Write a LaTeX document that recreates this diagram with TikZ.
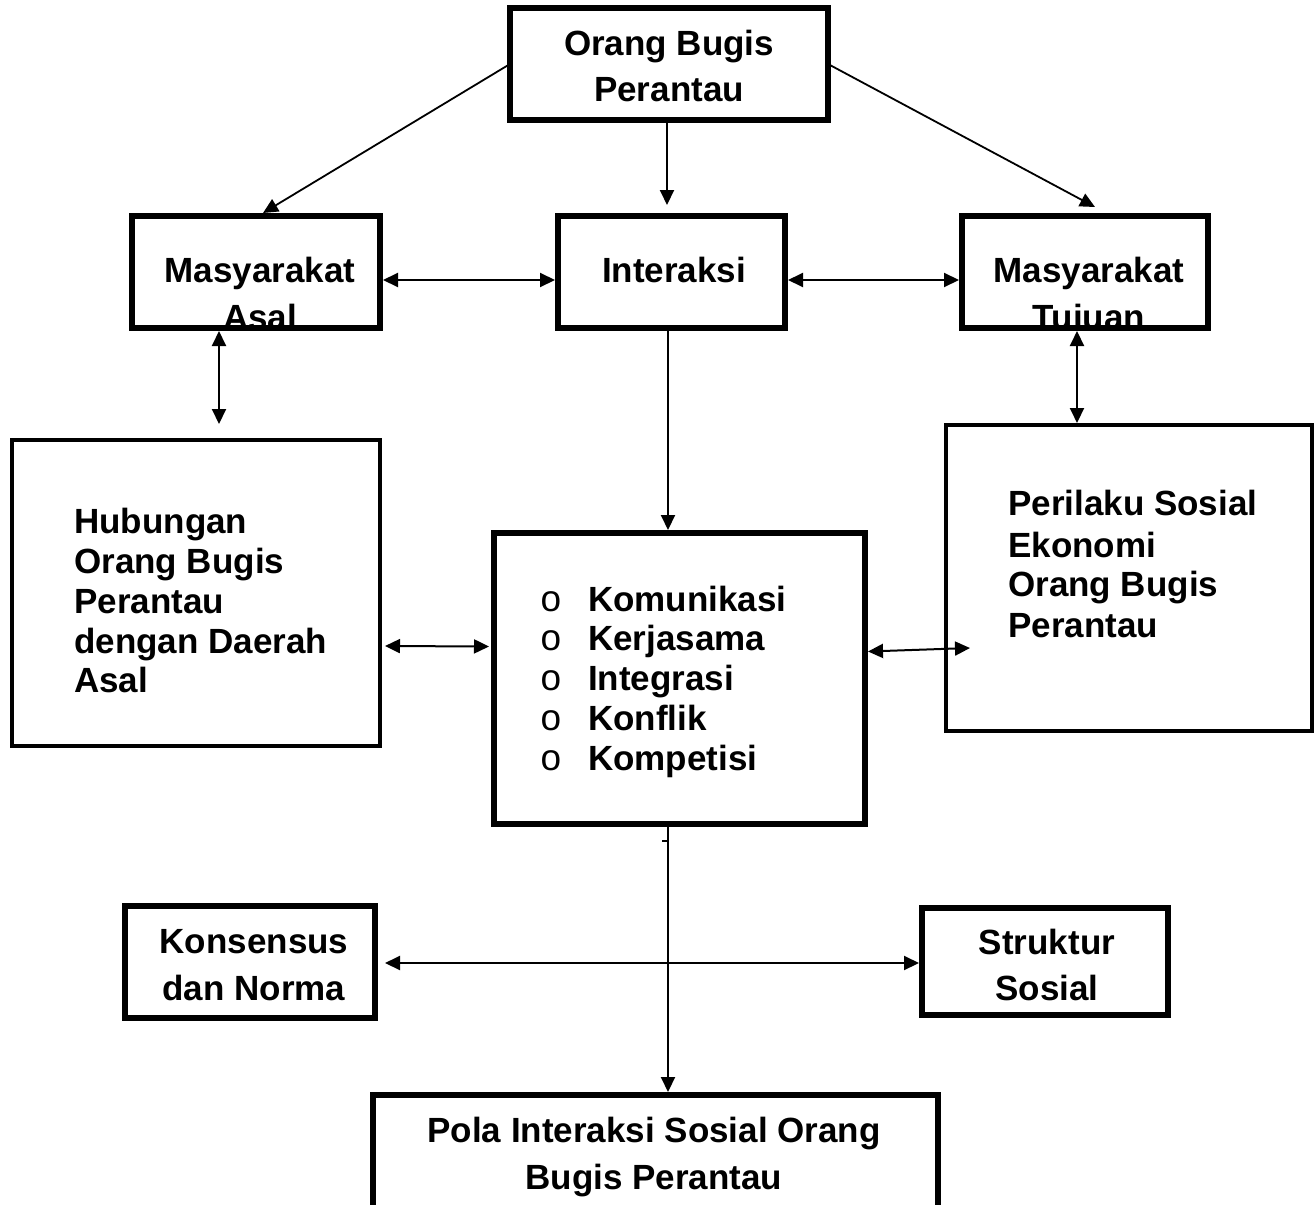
\documentclass[tikz,border=0pt]{standalone}
\usepackage{fontspec}
\setmainfont{Liberation Sans}
\usetikzlibrary{arrows.meta,calc}
\begin{document}
\begin{tikzpicture}[x=1pt,y=-1pt,
  >={Triangle[length=15pt,width=14pt]},
  box/.style={draw, line width=6pt, inner sep=0pt, outer sep=0pt, anchor=north west},
  thinbox/.style={box, line width=4pt},
  lbl/.style={font=\bfseries\fontsize{35}{40}\selectfont, inner sep=0pt, anchor=base},
  lbll/.style={lbl, anchor=base west},
  bul/.style={font=\mdseries\fontsize{37}{40}\selectfont, inner sep=0pt, anchor=base},
  arr/.style={->, line width=2pt},
  darr/.style={<->, line width=2pt}]
\useasboundingbox (0,0) rectangle (1316,1204);
\clip (0,0) rectangle (1316,1204);

% boxes
\node[box, minimum width=318pt, minimum height=112pt] (top) at (510,8) {};
\node[box, minimum width=248pt, minimum height=112pt] (masal) at (132,216) {};
\node[box, minimum width=227pt, minimum height=112pt] (inter) at (558,216) {};
\node[box, minimum width=246pt, minimum height=112pt] (mtuj) at (962,216) {};
\node[thinbox, minimum width=368pt, minimum height=306pt] (hub) at (12,440) {};
\node[box, minimum width=371pt, minimum height=291pt] (list) at (494,533) {};
\node[thinbox, minimum width=366pt, minimum height=306pt] (peri) at (946,425) {};
\node[box, minimum width=250pt, minimum height=112pt] (kons) at (125,906) {};
\node[box, minimum width=246pt, minimum height=107pt] (struk) at (922,908) {};
\node[box, minimum width=565pt, minimum height=160pt] (pola) at (373,1095) {};

% texts
\node[lbl] (t1a) at (669,56) {Orang Bugis};
\node[lbl] (t1b) at (669,102) {Perantau};

\node[lbl] (t2a) at (260,282) {Masyarakat};
\begin{scope}
  \clip (masal.north west) rectangle (masal.south east);
  \node[lbl] (t2b) at (260,329) {Asal};
\end{scope}
\draw[line width=6pt] (masal.north west) rectangle (masal.south east);

\node[lbl] (t3a) at (674,282) {Interaksi};

\node[lbl] (t4a) at (1089,282) {Masyarakat};
\begin{scope}
  \clip (mtuj.north west) rectangle (mtuj.south east);
  \node[lbl] (t4b) at (1089,329) {Tujuan};
\end{scope}
\draw[line width=6pt] (mtuj.north west) rectangle (mtuj.south east);

\node[lbll] (t5a) at (74,533) {Hubungan};
\node[lbll] (t5b) at (74,573) {Orang Bugis};
\node[lbll] (t5c) at (74,613) {Perantau};
\node[lbll] (t5d) at (74,653) {dengan Daerah};
\node[lbll] (t5e) at (74,692) {Asal};

\node[bul] (b1) at (551,611) {o};
\node[bul] (b2) at (551,650) {o};
\node[bul] (b3) at (551,690) {o};
\node[bul] (b4) at (551,730) {o};
\node[bul] (b5) at (551,770) {o};
\node[lbll] (t6a) at (588,611) {Komunikasi};
\node[lbll] (t6b) at (588,650) {Kerjasama};
\node[lbll] (t6c) at (588,690) {Integrasi};
\node[lbll] (t6d) at (588,730) {Konflik};
\node[lbll] (t6e) at (588,770) {Kompetisi};

\node[lbll] (t7a) at (1008,515) {Perilaku Sosial};
\node[lbll] (t7b) at (1008,557) {Ekonomi};
\node[lbll] (t7c) at (1008,596) {Orang Bugis};
\node[lbll] (t7d) at (1008,637) {Perantau};

\node[lbl] (t8a) at (254,953) {Konsensus};
\node[lbl] (t8b) at (254,1000) {dan Norma};

\node[lbl] (t9a) at (1047,954) {Struktur};
\node[lbl] (t9b) at (1047,1000) {Sosial};

\node[lbl] (t10a) at (654,1142) {Pola Interaksi Sosial Orang};
\node[lbl] (t10b) at (654,1189) {Bugis Perantau};

% connectors
\draw[arr, line width=1.8pt] (top.west) -- ($(masal.north)+(7,-3)$);
\draw[arr] ($(top.south)+(-2,0)$) -- ($(inter.north)+(-4.5,-11)$);
\draw[arr, line width=1.8pt] (top.east) -- ($(mtuj.north)+(10,-9)$);
\draw[darr] ($(masal.east)+(3,8)$) -- ($(inter.west)+(-3,8)$);
\draw[darr] ($(inter.east)+(3,8)$) -- ($(mtuj.west)+(-3,8)$);
\draw[darr] ($(masal.south)+(-37,3)$) -- ($(hub.north -| masal.south)+(-37,-16)$);
\draw[darr] ($(mtuj.south)+(-8,3)$) -- ($(peri.north -| mtuj.south)+(-8,-2)$);
\draw[arr] ($(inter.south)+(-3.5,0)$) -- ($(list.north -| inter.south)+(-3.5,-3)$);
\draw[darr] ($(hub.east)+(5,53)$) -- ($(list.west)+(-5,-32)$);
\draw[darr] ($(list.east)+(3,-27)$) -- ($(peri.west)+(24,70)$);
\draw[arr] ($(list.south)+(-11.5,0)$) -- ($(pola.north -| list.south)+(-11.5,-3)$);
\coordinate (tk) at ($(list.south)+(-11.5,17)$);
\draw[line width=1.5pt] (tk) -- ++(-6,0);
\draw[darr] ($(kons.east)+(10,1)$) -- ($(struk.west)+(-3,1.5)$);
\end{tikzpicture}
\end{document}
